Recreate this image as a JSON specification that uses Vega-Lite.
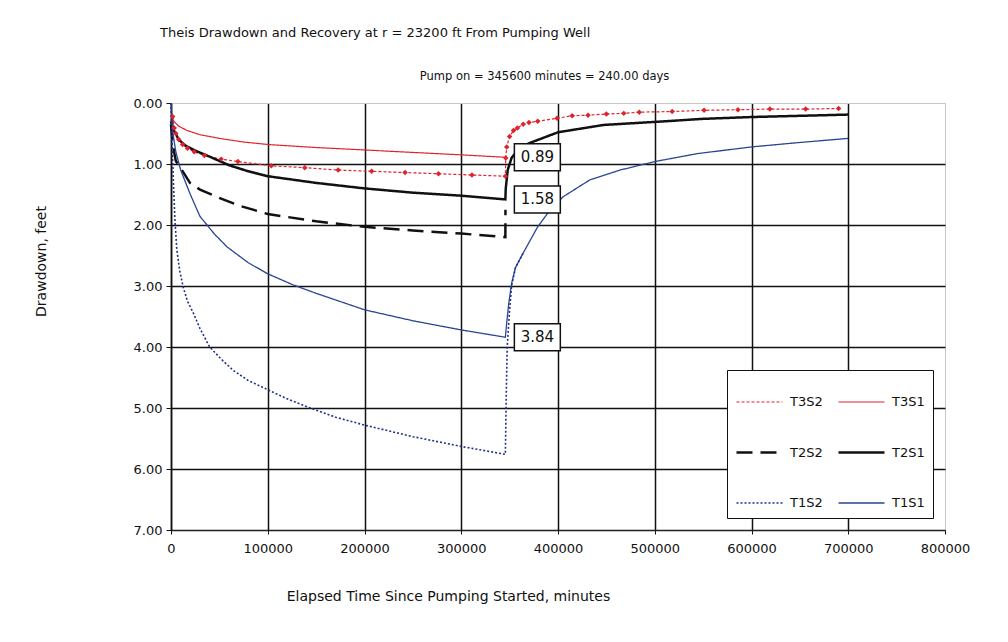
{
  "$schema": "https://vega.github.io/schema/vega-lite/v6.json",
  "width": 774,
  "height": 427,
  "autosize": {"type": "none"},
  "padding": {"left": 171, "top": 103, "right": 63, "bottom": 112},
  "background": "white",
  "config": {"view": {"stroke": "#c8c8c8", "strokeWidth": 1}, "font": "DejaVu Sans"},
  "title": {"text": "Theis Drawdown and Recovery at r = 23200 ft From Pumping Well", "anchor": "start", "frame": "group", "dx": -11, "offset": 30, "fontSize": 13, "font": "DejaVu Sans", "fontWeight": "normal", "color": "#111"},
  "datasets": {
    "curves": [
      {"series": "T3S1", "t": 0, "dd": 0.2},
      {"series": "T3S1", "t": 3000, "dd": 0.3},
      {"series": "T3S1", "t": 8000, "dd": 0.38},
      {"series": "T3S1", "t": 16500, "dd": 0.45},
      {"series": "T3S1", "t": 30000, "dd": 0.52},
      {"series": "T3S1", "t": 50000, "dd": 0.58},
      {"series": "T3S1", "t": 75000, "dd": 0.64},
      {"series": "T3S1", "t": 100000, "dd": 0.68},
      {"series": "T3S1", "t": 150000, "dd": 0.73},
      {"series": "T3S1", "t": 200000, "dd": 0.77},
      {"series": "T3S1", "t": 250000, "dd": 0.81},
      {"series": "T3S1", "t": 300000, "dd": 0.85},
      {"series": "T3S1", "t": 345600, "dd": 0.89},

      {"series": "T3S2", "t": 1700, "dd": 0.22},
      {"series": "T3S2", "t": 3400, "dd": 0.41},
      {"series": "T3S2", "t": 5000, "dd": 0.5},
      {"series": "T3S2", "t": 8000, "dd": 0.6},
      {"series": "T3S2", "t": 12000, "dd": 0.68},
      {"series": "T3S2", "t": 17000, "dd": 0.74},
      {"series": "T3S2", "t": 24000, "dd": 0.8},
      {"series": "T3S2", "t": 34560, "dd": 0.86},
      {"series": "T3S2", "t": 51840, "dd": 0.92},
      {"series": "T3S2", "t": 69120, "dd": 0.96},
      {"series": "T3S2", "t": 103680, "dd": 1.03},
      {"series": "T3S2", "t": 138240, "dd": 1.06},
      {"series": "T3S2", "t": 172800, "dd": 1.1},
      {"series": "T3S2", "t": 207360, "dd": 1.12},
      {"series": "T3S2", "t": 241920, "dd": 1.14},
      {"series": "T3S2", "t": 276480, "dd": 1.16},
      {"series": "T3S2", "t": 311040, "dd": 1.18},
      {"series": "T3S2", "t": 345600, "dd": 1.2},
      {"series": "T3S2", "t": 346000, "dd": 0.9},
      {"series": "T3S2", "t": 347000, "dd": 0.72},
      {"series": "T3S2", "t": 350000, "dd": 0.55},
      {"series": "T3S2", "t": 354000, "dd": 0.45},
      {"series": "T3S2", "t": 358000, "dd": 0.41},
      {"series": "T3S2", "t": 364000, "dd": 0.35},
      {"series": "T3S2", "t": 370000, "dd": 0.32},
      {"series": "T3S2", "t": 379000, "dd": 0.3},
      {"series": "T3S2", "t": 399000, "dd": 0.25},
      {"series": "T3S2", "t": 414600, "dd": 0.21},
      {"series": "T3S2", "t": 431000, "dd": 0.2},
      {"series": "T3S2", "t": 450000, "dd": 0.18},
      {"series": "T3S2", "t": 468000, "dd": 0.17},
      {"series": "T3S2", "t": 484000, "dd": 0.15},
      {"series": "T3S2", "t": 518000, "dd": 0.14},
      {"series": "T3S2", "t": 551000, "dd": 0.12},
      {"series": "T3S2", "t": 586000, "dd": 0.11},
      {"series": "T3S2", "t": 619000, "dd": 0.1},
      {"series": "T3S2", "t": 656000, "dd": 0.1},
      {"series": "T3S2", "t": 690000, "dd": 0.09},

      {"series": "T2S1", "t": 0, "dd": 0.3},
      {"series": "T2S1", "t": 3000, "dd": 0.45},
      {"series": "T2S1", "t": 8000, "dd": 0.6},
      {"series": "T2S1", "t": 15000, "dd": 0.7},
      {"series": "T2S1", "t": 25000, "dd": 0.78},
      {"series": "T2S1", "t": 40000, "dd": 0.88},
      {"series": "T2S1", "t": 60000, "dd": 1.02},
      {"series": "T2S1", "t": 80000, "dd": 1.12},
      {"series": "T2S1", "t": 100000, "dd": 1.2},
      {"series": "T2S1", "t": 150000, "dd": 1.31},
      {"series": "T2S1", "t": 200000, "dd": 1.4},
      {"series": "T2S1", "t": 250000, "dd": 1.47},
      {"series": "T2S1", "t": 300000, "dd": 1.52},
      {"series": "T2S1", "t": 345600, "dd": 1.58},
      {"series": "T2S1", "t": 346000, "dd": 1.4},
      {"series": "T2S1", "t": 348000, "dd": 1.1},
      {"series": "T2S1", "t": 352000, "dd": 0.9},
      {"series": "T2S1", "t": 360000, "dd": 0.75},
      {"series": "T2S1", "t": 370000, "dd": 0.66},
      {"series": "T2S1", "t": 380000, "dd": 0.6},
      {"series": "T2S1", "t": 400000, "dd": 0.48},
      {"series": "T2S1", "t": 447000, "dd": 0.36},
      {"series": "T2S1", "t": 500000, "dd": 0.31},
      {"series": "T2S1", "t": 550000, "dd": 0.26},
      {"series": "T2S1", "t": 600000, "dd": 0.23},
      {"series": "T2S1", "t": 650000, "dd": 0.21},
      {"series": "T2S1", "t": 700000, "dd": 0.19},

      {"series": "T2S2", "t": 0, "dd": 0.35},
      {"series": "T2S2", "t": 2000, "dd": 0.7},
      {"series": "T2S2", "t": 5000, "dd": 0.95},
      {"series": "T2S2", "t": 9300, "dd": 1.05},
      {"series": "T2S2", "t": 19600, "dd": 1.31},
      {"series": "T2S2", "t": 30000, "dd": 1.42},
      {"series": "T2S2", "t": 47500, "dd": 1.54},
      {"series": "T2S2", "t": 70000, "dd": 1.68},
      {"series": "T2S2", "t": 100000, "dd": 1.82},
      {"series": "T2S2", "t": 150000, "dd": 1.94},
      {"series": "T2S2", "t": 200000, "dd": 2.03},
      {"series": "T2S2", "t": 250000, "dd": 2.09},
      {"series": "T2S2", "t": 300000, "dd": 2.14},
      {"series": "T2S2", "t": 345600, "dd": 2.2},
      {"series": "T2S2", "t": 345700, "dd": 1.75},

      {"series": "T1S1", "t": 0, "dd": 0.0},
      {"series": "T1S1", "t": 2000, "dd": 0.5},
      {"series": "T1S1", "t": 5000, "dd": 0.8},
      {"series": "T1S1", "t": 10000, "dd": 1.1},
      {"series": "T1S1", "t": 15000, "dd": 1.3},
      {"series": "T1S1", "t": 20000, "dd": 1.5},
      {"series": "T1S1", "t": 30000, "dd": 1.86},
      {"series": "T1S1", "t": 45000, "dd": 2.15},
      {"series": "T1S1", "t": 58000, "dd": 2.36},
      {"series": "T1S1", "t": 80000, "dd": 2.62},
      {"series": "T1S1", "t": 100000, "dd": 2.8},
      {"series": "T1S1", "t": 126000, "dd": 2.98},
      {"series": "T1S1", "t": 150000, "dd": 3.12},
      {"series": "T1S1", "t": 200000, "dd": 3.39},
      {"series": "T1S1", "t": 250000, "dd": 3.57},
      {"series": "T1S1", "t": 300000, "dd": 3.72},
      {"series": "T1S1", "t": 345600, "dd": 3.84},
      {"series": "T1S1", "t": 347000, "dd": 3.6},
      {"series": "T1S1", "t": 349000, "dd": 3.3},
      {"series": "T1S1", "t": 352000, "dd": 2.96},
      {"series": "T1S1", "t": 356000, "dd": 2.7},
      {"series": "T1S1", "t": 364000, "dd": 2.46},
      {"series": "T1S1", "t": 379000, "dd": 2.03},
      {"series": "T1S1", "t": 392000, "dd": 1.75},
      {"series": "T1S1", "t": 405000, "dd": 1.54},
      {"series": "T1S1", "t": 433000, "dd": 1.26},
      {"series": "T1S1", "t": 464000, "dd": 1.1},
      {"series": "T1S1", "t": 500000, "dd": 0.96},
      {"series": "T1S1", "t": 544000, "dd": 0.83},
      {"series": "T1S1", "t": 600000, "dd": 0.72},
      {"series": "T1S1", "t": 648000, "dd": 0.65},
      {"series": "T1S1", "t": 700000, "dd": 0.58},

      {"series": "T1S2", "t": 0, "dd": 0.0},
      {"series": "T1S2", "t": 1000, "dd": 0.6},
      {"series": "T1S2", "t": 2500, "dd": 1.3},
      {"series": "T1S2", "t": 4000, "dd": 1.9},
      {"series": "T1S2", "t": 6000, "dd": 2.4},
      {"series": "T1S2", "t": 9000, "dd": 2.75},
      {"series": "T1S2", "t": 12500, "dd": 3.01},
      {"series": "T1S2", "t": 17000, "dd": 3.25},
      {"series": "T1S2", "t": 23000, "dd": 3.44},
      {"series": "T1S2", "t": 30000, "dd": 3.7},
      {"series": "T1S2", "t": 40000, "dd": 4.0},
      {"series": "T1S2", "t": 52000, "dd": 4.2},
      {"series": "T1S2", "t": 64000, "dd": 4.38},
      {"series": "T1S2", "t": 80000, "dd": 4.55},
      {"series": "T1S2", "t": 100000, "dd": 4.7},
      {"series": "T1S2", "t": 120000, "dd": 4.85},
      {"series": "T1S2", "t": 144000, "dd": 5.0},
      {"series": "T1S2", "t": 170000, "dd": 5.15},
      {"series": "T1S2", "t": 200000, "dd": 5.28},
      {"series": "T1S2", "t": 250000, "dd": 5.47},
      {"series": "T1S2", "t": 300000, "dd": 5.63},
      {"series": "T1S2", "t": 345600, "dd": 5.76},
      {"series": "T1S2", "t": 346500, "dd": 4.8},
      {"series": "T1S2", "t": 347500, "dd": 4.0},
      {"series": "T1S2", "t": 349500, "dd": 3.5},
      {"series": "T1S2", "t": 352000, "dd": 3.0},
      {"series": "T1S2", "t": 356000, "dd": 2.7},
      {"series": "T1S2", "t": 364000, "dd": 2.46}
    ],
    "labels": [
      {"t": 345600, "dd": 0.89, "label": "0.89"},
      {"t": 345600, "dd": 1.58, "label": "1.58"},
      {"t": 345600, "dd": 3.84, "label": "3.84"}
    ]
  },
  "layer": [
    {
      "data": {"name": "curves"},
      "mark": {"type": "line"},
      "encoding": {
        "x": {"field": "t", "type": "quantitative", "scale": {"domain": [0, 800000], "nice": false},
          "axis": {"title": "Elapsed Time Since Pumping Started, minutes", "values": [0, 100000, 200000, 300000, 400000, 500000, 600000, 700000, 800000], "format": "d", "labelFlush": false, "labelFontSize": 13, "labelColor": "#111", "tickSize": 4, "tickColor": "#111", "labelPadding": 8, "domainColor": "#222", "domainWidth": 1.2, "gridColor": {"condition": {"test": "datum.value >= 800000", "value": "#c8c8c8"}, "value": "#111"}, "gridWidth": {"condition": {"test": "datum.value >= 800000", "value": 1}, "value": 1.5}, "titleFontSize": 14, "titleFontWeight": "normal", "titleColor": "#111", "titlePadding": 34, "titleX": 277}},
        "y": {"field": "dd", "type": "quantitative", "scale": {"domain": [0, 7], "reverse": true, "nice": false},
          "axis": {"title": "Drawdown, feet", "values": [0, 1, 2, 3, 4, 5, 6, 7], "format": ".2f", "labelFontSize": 13, "labelColor": "#111", "tickSize": 5, "tickColor": "#111", "labelPadding": 4, "domainColor": "#111", "domainWidth": 1.5, "gridColor": {"condition": {"test": "datum.value === 0", "value": "#c8c8c8"}, "value": "#111"}, "gridWidth": {"condition": {"test": "datum.value === 0", "value": 1}, "value": 1.3}, "titleFontSize": 14, "titleFontWeight": "normal", "titleColor": "#111", "titleX": -123, "titleY": 158}},
        "color": {"field": "series", "type": "nominal",
          "scale": {"domain": ["T3S2", "T2S2", "T1S2", "T3S1", "T2S1", "T1S1"], "range": ["#e0222c", "#111111", "#23318a", "#e0222c", "#111111", "#2b4590"]},
          "legend": {"title": null, "orient": "bottom-right", "offset": 12, "columns": 2, "columnPadding": 10, "rowPadding": 19, "padding": 8, "symbolSize": 2116, "labelOffset": 6, "labelFontSize": 13, "labelColor": "#111", "strokeColor": "#111", "fillColor": "white"}},
        "strokeDash": {"field": "series", "type": "nominal",
          "scale": {"domain": ["T3S2", "T2S2", "T1S2", "T3S1", "T2S1", "T1S1"], "range": [[3, 2], [16, 8], [2, 2], [1, 0], [1, 0], [1, 0]]}},
        "strokeWidth": {"field": "series", "type": "nominal",
          "scale": {"type": "ordinal", "domain": ["T3S2", "T2S2", "T1S2", "T3S1", "T2S1", "T1S1"], "range": [1.2, 2.5, 1.6, 1.2, 2.5, 1.3]}}
      }
    },
    {
      "data": {"name": "curves"},
      "transform": [{"filter": "datum.series === 'T3S2'"}],
      "mark": {"type": "point", "shape": "diamond", "filled": true, "size": 30, "color": "#e0222c", "opacity": 1},
      "encoding": {
        "x": {"field": "t", "type": "quantitative", "axis": null},
        "y": {"field": "dd", "type": "quantitative"}
      }
    },
    {
      "data": {"name": "labels"},
      "mark": {"type": "point", "shape": "M0.375,-0.5625H2.29V0.5625H0.375Z", "size": 2304, "filled": true, "fill": "white", "stroke": "#111", "strokeWidth": 1.5, "opacity": 1},
      "encoding": {
        "x": {"field": "t", "type": "quantitative", "axis": null},
        "y": {"field": "dd", "type": "quantitative"}
      }
    },
    {
      "data": {"name": "labels"},
      "mark": {"type": "text", "dx": 32, "align": "center", "baseline": "middle", "fontSize": 15, "font": "DejaVu Sans", "color": "#111"},
      "encoding": {
        "x": {"field": "t", "type": "quantitative",
          "axis": {"orient": "top", "title": "Pump on = 345600 minutes = 240.00 days", "labels": false, "ticks": false, "domain": false, "grid": false, "titleFontSize": 11.5, "titleFontWeight": "normal", "titleColor": "#111", "titlePadding": 22, "titleX": 373}},
        "y": {"field": "dd", "type": "quantitative"},
        "text": {"field": "label", "type": "nominal"}
      }
    }
  ],
  "resolve": {"axis": {"x": "independent"}}
}
